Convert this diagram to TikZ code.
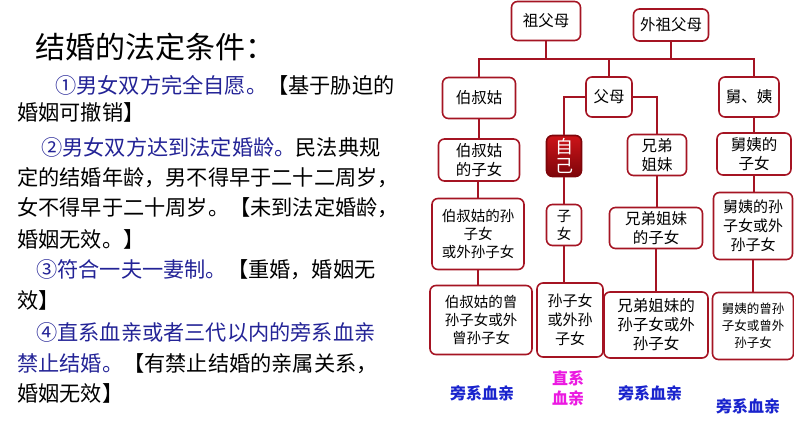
\documentclass[tikz,border=0pt]{standalone}
\usepackage{fontspec}
\setmainfont{Noto Sans CJK SC}
\usepackage{tikz}
\usetikzlibrary{positioning}
\usepackage{xcolor}
\definecolor{kinred}{RGB}{165,20,35}
\definecolor{selfred}{RGB}{205,20,25}
\definecolor{selfdark}{RGB}{125,5,10}
\definecolor{lawblue}{RGB}{35,35,150}
\definecolor{sideblue}{RGB}{25,35,205}
\definecolor{lineage}{RGB}{235,25,225}
\tikzstyle{link} = [draw=kinred, line width=1.6pt]
\tikzstyle{kinbox} = [rectangle, rounded corners=6pt, draw=kinred, line width=1.6pt, fill=white, align=center, inner sep=2pt, font=\fontsize{14.5}{18}\selectfont]
\tikzstyle{textline} = [anchor=west, inner sep=0pt, font=\fontsize{21.2}{24}\selectfont]
\tikzstyle{grouplabel} = [font=\bfseries\fontsize{16}{20}\selectfont, align=center]

\begin{document}
\begin{tikzpicture}[x=1pt, y=-1pt]
\useasboundingbox (0,0) rectangle (794,447);

% conditions text
\node[anchor=west, inner sep=0pt, font=\fontsize{30}{34}\selectfont] (title) at (35,47) {结婚的法定条件：};
\node[textline] (l1) at (55,85) {\textcolor{lawblue}{①男女双方完全自愿。}【基于胁迫的};
\node[textline] (l2) at (17,112) {婚姻可撤销】};
\node[textline] (l3) at (41,147) {\textcolor{lawblue}{②男女双方达到法定婚龄。}民法典规};
\node[textline] (l4) at (17,178) {定的结婚年龄，男不得早于二十二周岁，};
\node[textline] (l5) at (17,208) {女不得早于二十周岁。【未到法定婚龄，};
\node[textline] (l6) at (17,239) {婚姻无效。】};
\node[textline] (l7) at (36,270) {\textcolor{lawblue}{③符合一夫一妻制。}【重婚，婚姻无};
\node[textline] (l8) at (17,300) {效】};
\node[textline] (l9) at (36,332) {\textcolor{lawblue}{④直系血亲或者三代以内的旁系血亲}};
\node[textline] (l10) at (17,364) {\textcolor{lawblue}{禁止结婚。}【有禁止结婚的亲属关系，};
\node[textline] (l11) at (17,393) {婚姻无效】};

% family tree
\node[kinbox, minimum width=69pt, minimum height=39pt, font=\fontsize{15.5}{18}\selectfont] (zfm) at (546,21) {祖父母};
\node[kinbox, minimum width=75pt, minimum height=32pt, font=\fontsize{15.5}{18}\selectfont] (wzfm) at (671,25) {外祖父母};
\node[kinbox, minimum width=73pt, minimum height=41pt, font=\fontsize{15.5}{18}\selectfont] (bsg) at (479,98) {伯叔姑};
\node[kinbox, minimum width=46pt, minimum height=40pt, font=\fontsize{15.5}{18}\selectfont] (fm) at (609,97) {父母};
\node[kinbox, minimum width=60pt, minimum height=40pt, font=\fontsize{15.5}{18}\selectfont] (jy) at (749,97) {舅、姨};

\node[kinbox, minimum width=81pt, minimum height=42pt, font=\fontsize{15.5}{19}\selectfont] (bsgzn) at (479,160) {伯叔姑\\的子女};
\node[kinbox, minimum width=35pt, minimum height=41pt, draw=selfdark, top color=selfred, bottom color=selfdark, text=white, font=\fontsize{18}{19}\selectfont, inner sep=1pt] (zj) at (564,156) {自\\己};
\node[kinbox, minimum width=59pt, minimum height=41pt, font=\fontsize{15.5}{19}\selectfont] (xd) at (657,155) {兄弟\\姐妹};
\node[kinbox, minimum width=74pt, minimum height=42pt, font=\fontsize{15.5}{19}\selectfont] (jyzn) at (754,154) {舅姨的\\子女};

\node[kinbox, minimum width=92pt, minimum height=71pt] (bsgsn) at (478,234) {伯叔姑的孙\\子女\\或外孙子女};
\node[kinbox, minimum width=35pt, minimum height=41pt] (zn) at (564,225) {子\\女};
\node[kinbox, minimum width=93pt, minimum height=41pt, font=\fontsize{15.5}{19}\selectfont] (xdzn) at (656,228) {兄弟姐妹\\的子女};
\node[kinbox, minimum width=79pt, minimum height=67pt, font=\fontsize{15}{19}\selectfont] (jysn) at (753,226) {舅姨的孙\\子女或外\\孙子女};

\node[kinbox, minimum width=102pt, minimum height=69pt] (bsgzs) at (481,320) {伯叔姑的曾\\孙子女或外\\曾孙子女};
\node[kinbox, minimum width=66pt, minimum height=74pt, font=\fontsize{15}{19}\selectfont] (szn) at (570,320) {孙子女\\或外孙\\子女};
\node[kinbox, minimum width=104pt, minimum height=66pt, font=\fontsize{15.5}{19}\selectfont] (xdsn) at (656,325) {兄弟姐妹的\\孙子女或外\\孙子女};
\node[kinbox, minimum width=81pt, minimum height=67pt, font=\fontsize{12.5}{17}\selectfont] (jyzs) at (753,326) {舅姨的曾孙\\子女或曾外\\孙子女};

\coordinate (bus) at (0,59);
\draw[link] (zfm.south) -- (zfm.south |- bus);
\draw[link] (wzfm.south) -- (wzfm.south |- bus);
\draw[link] (bsg.north) -- (bsg.north |- bus) -- (jyzn.north |- bus) -- (jyzn.north |- jy.north);
\draw[link] (fm.north) -- (fm.north |- bus);
\draw[link] (fm.west) -| (zj.north);
\draw[link] (fm.east) -| (xd.north);

\draw[link] (bsgzn.north) -- (bsgzn.north |- bsg.south);
\draw[link] (bsgsn.north) -- (bsgsn.north |- bsgzn.south);
\draw[link] (bsgsn.south) -- (bsgsn.south |- bsgzs.north);
\draw[link] (zj.south) -- (zj.south |- zn.north);
\draw[link] (zn.south) -- (zn.south |- szn.north);
\draw[link] (xd.south) -- (xd.south |- xdzn.north);
\draw[link] (xdzn.south) -- (xdzn.south |- xdsn.north);
\draw[link] (jyzn.north) -- (jyzn.north |- jy.south);
\draw[link] (jyzn.south) -- (jyzn.south |- jysn.north);
\draw[link] (jysn.south) -- (jysn.south |- jyzs.north);

% kinship groups
\node[grouplabel, text=sideblue] (side1) at (482,393) {旁系血亲};
\node[grouplabel, text=lineage] (direct) at (568,388) {直系\\血亲};
\node[grouplabel, text=sideblue] (side2) at (650,393) {旁系血亲};
\node[grouplabel, text=sideblue] (side3) at (748,406) {旁系血亲};
\end{tikzpicture}
\end{document}
